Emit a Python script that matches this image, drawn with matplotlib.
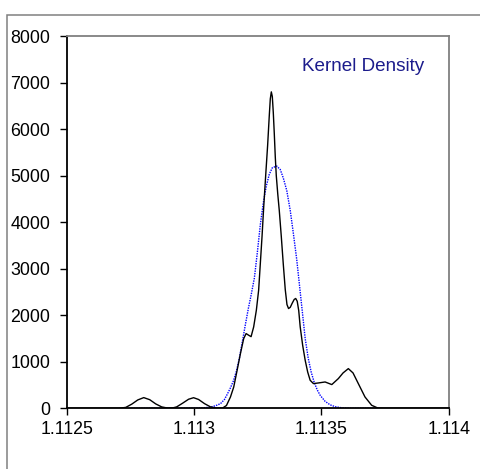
import matplotlib
matplotlib.use('Agg')
import matplotlib.pyplot as plt
from matplotlib.patches import Rectangle

# ── Daten ─────────────────────────────────────────────────────────────────────
kd_x = [1.1125, 1.1127037, 1.1127311, 1.1127546, 1.1127781, 1.1128016, 1.1128251,
        1.1128486, 1.1128721, 1.1128956, 1.1129151, 1.1129308, 1.1129543,
        1.1129778, 1.1129974, 1.1130170, 1.1130405, 1.1130640, 1.1130875,
        1.1131110, 1.1131266, 1.1131423, 1.1131552, 1.1131685, 1.1131815,
        1.1131944, 1.1132038, 1.1132140, 1.1132234, 1.1132335, 1.1132441,
        1.1132531, 1.1132665, 1.1132727, 1.1132813, 1.1132884, 1.1132950,
        1.1132989, 1.1133029, 1.1133068, 1.1133107, 1.1133146, 1.1133185,
        1.1133224, 1.1133283, 1.1133342, 1.1133420, 1.1133499, 1.1133577,
        1.1133644, 1.1133706, 1.1133773, 1.1133851, 1.1133929, 1.1133988,
        1.1134047, 1.1134106, 1.1134164, 1.1134262, 1.1134360, 1.1134458,
        1.1134556, 1.1134685, 1.1134881, 1.1135143, 1.1135406, 1.1135664,
        1.1135848, 1.1136056, 1.1136240, 1.1136448, 1.1136710, 1.1136972,
        1.1137219, 1.1137493, 1.114]
kd_y = [0, 0, 20, 90, 180, 230, 185,
        95, 30, 5, 8, 30, 110,
        195, 228, 190, 100, 30, 5,
        5, 60, 243, 458, 817, 1176,
        1499, 1606, 1570, 1540, 1748, 2108,
        2540, 3700, 4300, 5050, 5650, 6300,
        6650, 6800, 6700, 6350, 5900, 5400,
        5000, 4600, 4250, 3700, 3100, 2550,
        2230, 2144, 2170, 2260, 2340, 2360,
        2300, 2100, 1750, 1350, 1032, 780,
        602, 531, 545, 566, 510, 639,
        760, 853, 760, 531, 244, 65,
        5, 0, 0]

norm_x = [1.1127428, 1.1129465, 1.1130248, 1.1130640, 1.1130835, 1.1131031,
          1.1131188, 1.1131305, 1.1131423, 1.1131540, 1.1131658, 1.1131775,
          1.1131893, 1.1132010, 1.1132128, 1.1132245, 1.1132363, 1.1132480,
          1.1132598, 1.1132715, 1.1132833, 1.1132950, 1.1133068, 1.1133244,
          1.1133381, 1.1133499, 1.1133636, 1.1133773, 1.1133890, 1.1134027,
          1.1134125, 1.1134243, 1.1134360, 1.1134478, 1.1134595, 1.1134713,
          1.1134830, 1.1134948, 1.1135143, 1.1135339, 1.1135535, 1.1135809,
          1.1136123, 1.1137180]
norm_y = [0, 0, 5, 25, 55, 100,
          190, 310, 440, 590, 800, 1080,
          1440, 1800, 2150, 2460, 2800, 3350,
          3950, 4420, 4780, 5030, 5170, 5205,
          5130, 4950, 4680, 4250, 3780, 3200,
          2700, 2100, 1500, 1080, 780, 560,
          400, 280, 150, 75, 35, 10,
          0, 0]

x_ticks = [1.1125, 1.113, 1.1135, 1.114]
x_labels = ['1.1125', '1.113', '1.1135', '1.114']
y_ticks = [0, 1000, 2000, 3000, 4000, 5000, 6000, 7000, 8000]

# ── Stil ──────────────────────────────────────────────────────────────────────
plt.rcParams['font.family'] = ['Liberation Sans', 'DejaVu Sans']
_GREY = '#808080'
_NAVY = '#1c1c8c'

fig = plt.figure(figsize=(4.8, 4.69), dpi=100)
fig.patch.set_facecolor('white')

# äusserer Rahmen (rechts/unten abgeschnitten)
fig.patches.append(Rectangle((0.0156, -0.2), 1.2, 0.968 + 0.2,
                             transform=fig.transFigure, fill=False,
                             edgecolor=_GREY, linewidth=1.1))

ax = fig.add_axes([0.1396, 0.1294, 0.7952, 0.7938])
ax.set_facecolor('white')

ax.plot(norm_x, norm_y, color='#0000ff', linewidth=1.0,
        linestyle=(0, (1, 0.8)), zorder=2)
ax.plot(kd_x, kd_y, color='black', linewidth=1.0, zorder=3)

ax.set_xlim(1.1125, 1.114)
ax.set_ylim(0, 8000)
ax.set_xticks(x_ticks)
ax.set_xticklabels(x_labels)
ax.set_yticks(y_ticks)

for side in ('left', 'bottom'):
    ax.spines[side].set_color('black')
    ax.spines[side].set_linewidth(1.3)
for side in ('top', 'right'):
    ax.spines[side].set_color(_GREY)
    ax.spines[side].set_linewidth(1.3)

ax.tick_params(axis='both', direction='out', length=5, width=1,
               colors='black', labelsize=12.8)
ax.tick_params(axis='y', pad=7)
ax.tick_params(axis='x', pad=4)

ax.text(0.776, 0.917, 'Kernel Density', transform=ax.transAxes,
        ha='center', va='center', fontsize=13.6, color=_NAVY)

fig.savefig('out.png', dpi=100, facecolor='white')
